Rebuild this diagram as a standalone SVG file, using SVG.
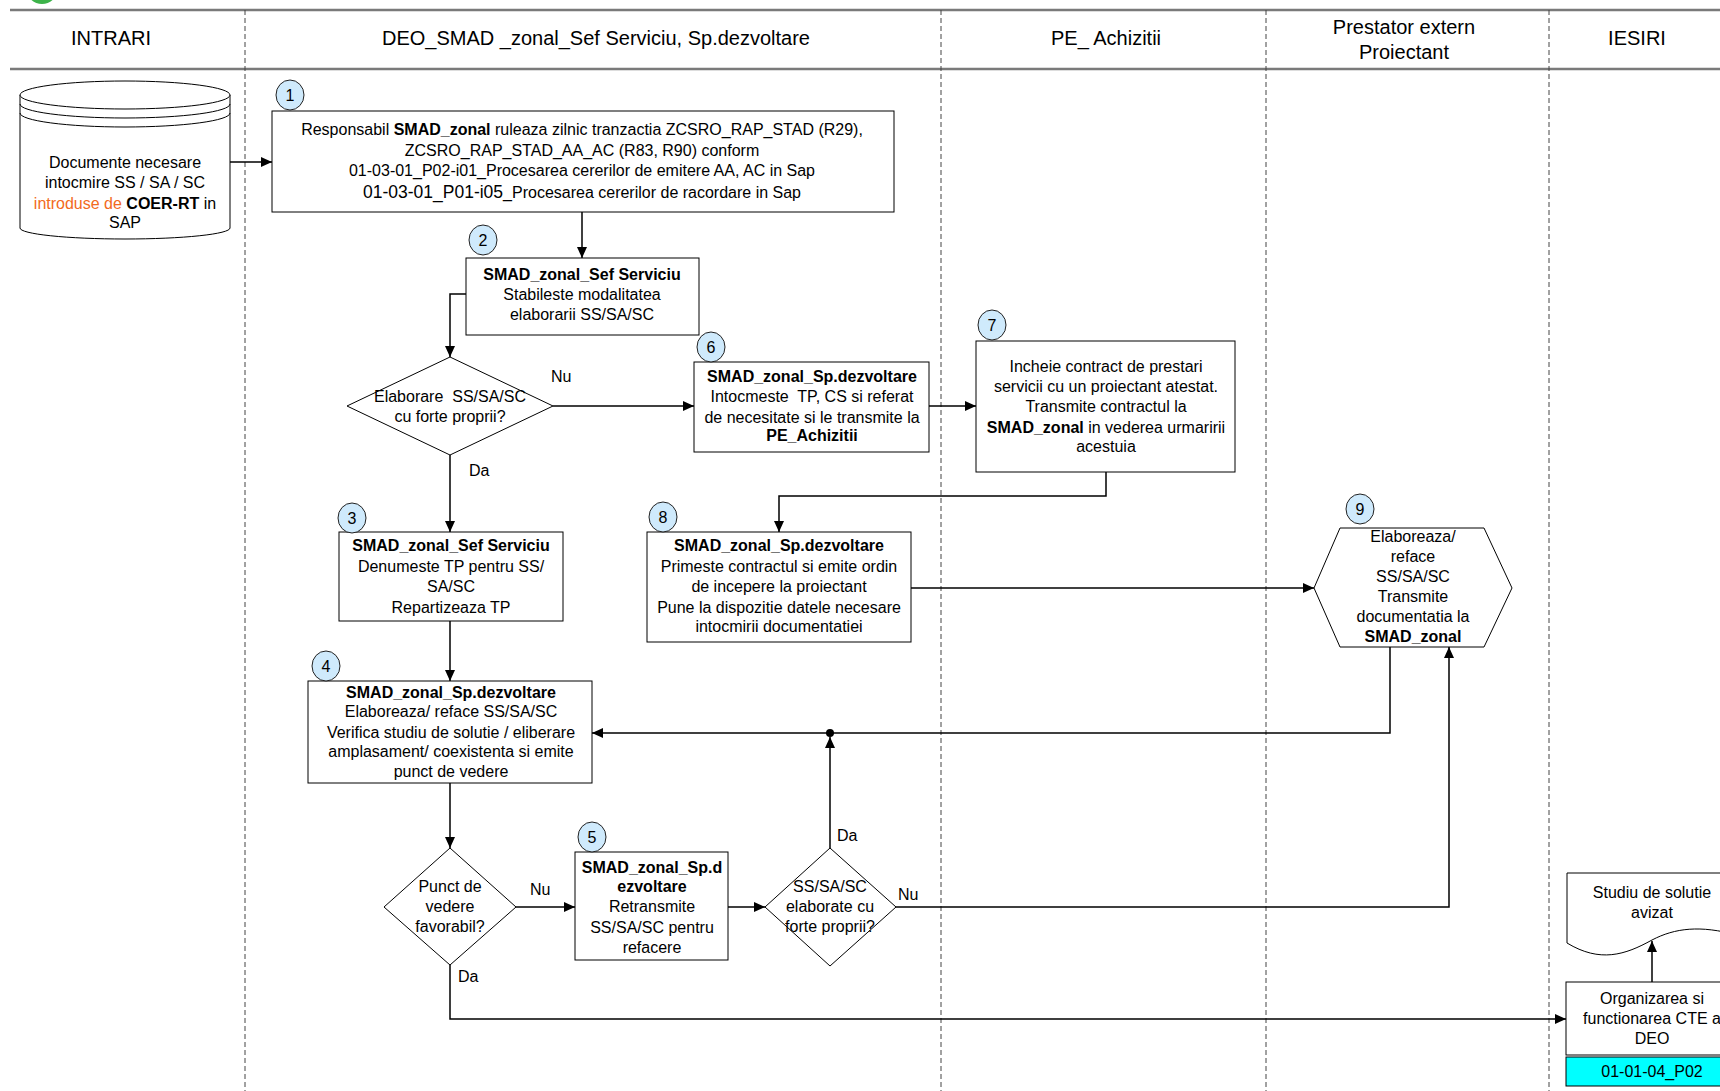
<svg xmlns="http://www.w3.org/2000/svg" width="1720" height="1091" viewBox="0 0 1720 1091">
<style>
.t{font-family:"Liberation Sans",Arial,sans-serif;font-size:16px;fill:#000;text-anchor:middle}
.s{text-anchor:start}
.b{font-weight:bold}
.h{font-size:20px}
.box{fill:#fff;stroke:#000;stroke-width:1}
.badge{fill:#cfeafc;stroke:#222;stroke-width:1}
.conn{fill:none;stroke:#000;stroke-width:1.5}
.lane{stroke:#444;stroke-width:1;stroke-dasharray:5,3}
.hdr{stroke:#7a7a7a;stroke-width:2.5}
.or{fill:#f26a21}
</style>
<defs>
<marker id="arr" markerUnits="userSpaceOnUse" markerWidth="12" markerHeight="10" refX="11" refY="5" orient="auto">
<path d="M0,0 L11,5 L0,10 z" fill="#000"/>
</marker>
</defs>
<rect width="1720" height="1091" fill="#fff"/>
<circle cx="42" cy="-12" r="16" fill="#3db34a"/>
<g id="swimlanes">
<line class="hdr" x1="10" y1="10" x2="1720" y2="10"/>
<line class="hdr" x1="10" y1="69" x2="1720" y2="69"/>
<line class="lane" x1="245" y1="10" x2="245" y2="1091"/>
<line class="lane" x1="941" y1="10" x2="941" y2="1091"/>
<line class="lane" x1="1266" y1="10" x2="1266" y2="1091"/>
<line class="lane" x1="1549" y1="10" x2="1549" y2="1091"/>
<text class="t h" x="111" y="45">INTRARI</text>
<text class="t h" x="596" y="45">DEO_SMAD _zonal_Sef Serviciu, Sp.dezvoltare</text>
<text class="t h" x="1106" y="45">PE_ Achizitii</text>
<text class="t h" x="1404" y="34">Prestator extern</text>
<text class="t h" x="1404" y="59">Proiectant</text>
<text class="t h" x="1637" y="45">IESIRI</text>
</g>
<g id="connectors">
<path class="conn" d="M230,162 H272" marker-end="url(#arr)"/>
<path class="conn" d="M582,212 V258" marker-end="url(#arr)"/>
<path class="conn" d="M466,294 H450 V357" marker-end="url(#arr)"/>
<path class="conn" d="M553,406 H694" marker-end="url(#arr)"/>
<path class="conn" d="M450,455 V532" marker-end="url(#arr)"/>
<path class="conn" d="M929,406 H976" marker-end="url(#arr)"/>
<path class="conn" d="M1106,472 V496 H779 V532" marker-end="url(#arr)"/>
<path class="conn" d="M911,588 H1314" marker-end="url(#arr)"/>
<path class="conn" d="M450,621 V681" marker-end="url(#arr)"/>
<path class="conn" d="M1390,647 V733 H592" marker-end="url(#arr)"/>
<circle cx="830" cy="733" r="4" fill="#000"/>
<path class="conn" d="M830,848 V737" marker-end="url(#arr)"/>
<path class="conn" d="M450,783 V848" marker-end="url(#arr)"/>
<path class="conn" d="M516,907 H575" marker-end="url(#arr)"/>
<path class="conn" d="M728,907 H765" marker-end="url(#arr)"/>
<path class="conn" d="M896,907 H1449 V647" marker-end="url(#arr)"/>
<path class="conn" d="M450,965 V1019 H1566" marker-end="url(#arr)"/>
<path class="conn" d="M1652,982 V941" marker-end="url(#arr)"/>
<text class="t s" x="551" y="382">Nu</text>
<text class="t s" x="469" y="476">Da</text>
<text class="t s" x="837" y="841">Da</text>
<text class="t s" x="530" y="895">Nu</text>
<text class="t s" x="898" y="900">Nu</text>
<text class="t s" x="458" y="982">Da</text>
</g>
<g id="input-docs">
<path class="box" d="M20,95 V228 A105,11 0 0 0 230,228 V95"/>
<ellipse class="box" cx="125" cy="95" rx="105" ry="14"/>
<path class="conn" style="stroke-width:1" d="M20,104 A105,14 0 0 0 230,104 M20,113 A105,14 0 0 0 230,113"/>
<text class="t" x="125" y="168">Documente necesare</text>
<text class="t" x="125" y="188">intocmire SS / SA / SC</text>
<text class="t" x="125" y="209"><tspan class="or">introduse de </tspan><tspan class="b">COER-RT</tspan> in</text>
<text class="t" x="125" y="228">SAP</text>
</g>
<g id="step1">
<rect class="box" x="272" y="111" width="622" height="101"/>
<text class="t" x="582" y="135">Responsabil <tspan class="b">SMAD_zonal</tspan> ruleaza zilnic tranzactia ZCSRO_RAP_STAD (R29),</text>
<text class="t" x="582" y="156">ZCSRO_RAP_STAD_AA_AC (R83, R90) conform</text>
<text class="t" x="582" y="176">01-03-01_P02-i01_Procesarea cererilor de emitere AA, AC in Sap</text>
<text class="t" x="582" y="198"><tspan style="font-size:17.5px">01-03-01_P01-i05</tspan>_Procesarea cererilor de racordare in Sap</text>
<ellipse class="badge" cx="290" cy="95" rx="14" ry="15"/>
<text class="t" x="290" y="101">1</text>
</g>
<g id="step2">
<rect class="box" x="466" y="258" width="233" height="77"/>
<text class="t b" x="582" y="280">SMAD_zonal_Sef Serviciu</text>
<text class="t" x="582" y="300">Stabileste modalitatea</text>
<text class="t" x="582" y="320">elaborarii SS/SA/SC</text>
<ellipse class="badge" cx="483" cy="240" rx="14" ry="15"/>
<text class="t" x="483" y="246">2</text>
</g>
<g id="decision1">
<polygon class="box" points="450,357 553,406 450,455 347,406"/>
<text class="t" x="450" y="402">Elaborare&#160; SS/SA/SC</text>
<text class="t" x="450" y="422">cu forte proprii?</text>
</g>
<g id="step6">
<rect class="box" x="694" y="362" width="235" height="90"/>
<text class="t b" x="812" y="382">SMAD_zonal_Sp.dezvoltare</text>
<text class="t" x="812" y="402">Intocmeste&#160; TP, CS si referat</text>
<text class="t" x="812" y="423">de necesitate si le transmite la</text>
<text class="t b" x="812" y="441">PE_Achizitii</text>
<ellipse class="badge" cx="711" cy="347" rx="14" ry="15"/>
<text class="t" x="711" y="353">6</text>
</g>
<g id="step7">
<rect class="box" x="976" y="341" width="259" height="131"/>
<text class="t" x="1106" y="372">Incheie contract de prestari</text>
<text class="t" x="1106" y="392">servicii cu un proiectant atestat.</text>
<text class="t" x="1106" y="412">Transmite contractul la</text>
<text class="t" x="1106" y="433"><tspan class="b">SMAD_zonal</tspan> in vederea urmaririi</text>
<text class="t" x="1106" y="452">acestuia</text>
<ellipse class="badge" cx="992" cy="325" rx="14" ry="15"/>
<text class="t" x="992" y="331">7</text>
</g>
<g id="step3">
<rect class="box" x="339" y="532" width="224" height="89"/>
<text class="t b" x="451" y="551">SMAD_zonal_Sef Serviciu</text>
<text class="t" x="451" y="572">Denumeste TP pentru SS/</text>
<text class="t" x="451" y="592">SA/SC</text>
<text class="t" x="451" y="613">Repartizeaza TP</text>
<ellipse class="badge" cx="352" cy="518" rx="14" ry="15"/>
<text class="t" x="352" y="524">3</text>
</g>
<g id="step8">
<rect class="box" x="647" y="532" width="264" height="110"/>
<text class="t b" x="779" y="551">SMAD_zonal_Sp.dezvoltare</text>
<text class="t" x="779" y="572">Primeste contractul si emite ordin</text>
<text class="t" x="779" y="592">de incepere la proiectant</text>
<text class="t" x="779" y="613">Pune la dispozitie datele necesare</text>
<text class="t" x="779" y="632">intocmirii documentatiei</text>
<ellipse class="badge" cx="663" cy="517" rx="14" ry="15"/>
<text class="t" x="663" y="523">8</text>
</g>
<g id="step9">
<polygon class="box" points="1340,528 1484,528 1512,588 1484,647 1340,647 1314,588"/>
<text class="t" x="1413" y="542">Elaboreaza/</text>
<text class="t" x="1413" y="562">reface</text>
<text class="t" x="1413" y="582">SS/SA/SC</text>
<text class="t" x="1413" y="602">Transmite</text>
<text class="t" x="1413" y="622">documentatia la</text>
<text class="t b" x="1413" y="642">SMAD_zonal</text>
<ellipse class="badge" cx="1360" cy="509" rx="14" ry="15"/>
<text class="t" x="1360" y="515">9</text>
</g>
<g id="step4">
<rect class="box" x="308" y="681" width="284" height="102"/>
<text class="t b" x="451" y="698">SMAD_zonal_Sp.dezvoltare</text>
<text class="t" x="451" y="717">Elaboreaza/ reface SS/SA/SC</text>
<text class="t" x="451" y="738">Verifica studiu de solutie / eliberare</text>
<text class="t" x="451" y="757">amplasament/ coexistenta si emite</text>
<text class="t" x="451" y="777">punct de vedere</text>
<ellipse class="badge" cx="326" cy="666" rx="14" ry="15"/>
<text class="t" x="326" y="672">4</text>
</g>
<g id="decision2">
<polygon class="box" points="450,848 516,907 450,965 384,907"/>
<text class="t" x="450" y="892">Punct de</text>
<text class="t" x="450" y="912">vedere</text>
<text class="t" x="450" y="932">favorabil?</text>
</g>
<g id="step5">
<rect class="box" x="575" y="852" width="153" height="108"/>
<text class="t b" x="652" y="873">SMAD_zonal_Sp.d</text>
<text class="t b" x="652" y="892">ezvoltare</text>
<text class="t" x="652" y="912">Retransmite</text>
<text class="t" x="652" y="933">SS/SA/SC pentru</text>
<text class="t" x="652" y="953">refacere</text>
<ellipse class="badge" cx="592" cy="837" rx="14" ry="15"/>
<text class="t" x="592" y="843">5</text>
</g>
<g id="decision3">
<polygon class="box" points="830,848 896,907 830,966 765,907"/>
<text class="t" x="830" y="892">SS/SA/SC</text>
<text class="t" x="830" y="912">elaborate cu</text>
<text class="t" x="830" y="932">forte proprii?</text>
</g>
<g id="output-doc">
<path class="box" d="M1567,943 V873 H1737 V935 C1700,925 1675,928 1652,940 C1625,955 1600,963 1567,943 z"/>
<text class="t" x="1652" y="898">Studiu de solutie</text>
<text class="t" x="1652" y="918">avizat</text>
</g>
<g id="cte">
<rect class="box" x="1566" y="982" width="172" height="73"/>
<rect x="1566" y="1057" width="172" height="29" fill="#00ffff" stroke="#000" stroke-width="1"/>
<text class="t" x="1652" y="1004">Organizarea si</text>
<text class="t" x="1652" y="1024">functionarea CTE a</text>
<text class="t" x="1652" y="1044">DEO</text>
<text class="t" x="1652" y="1077">01-01-04_P02</text>
</g>
</svg>
